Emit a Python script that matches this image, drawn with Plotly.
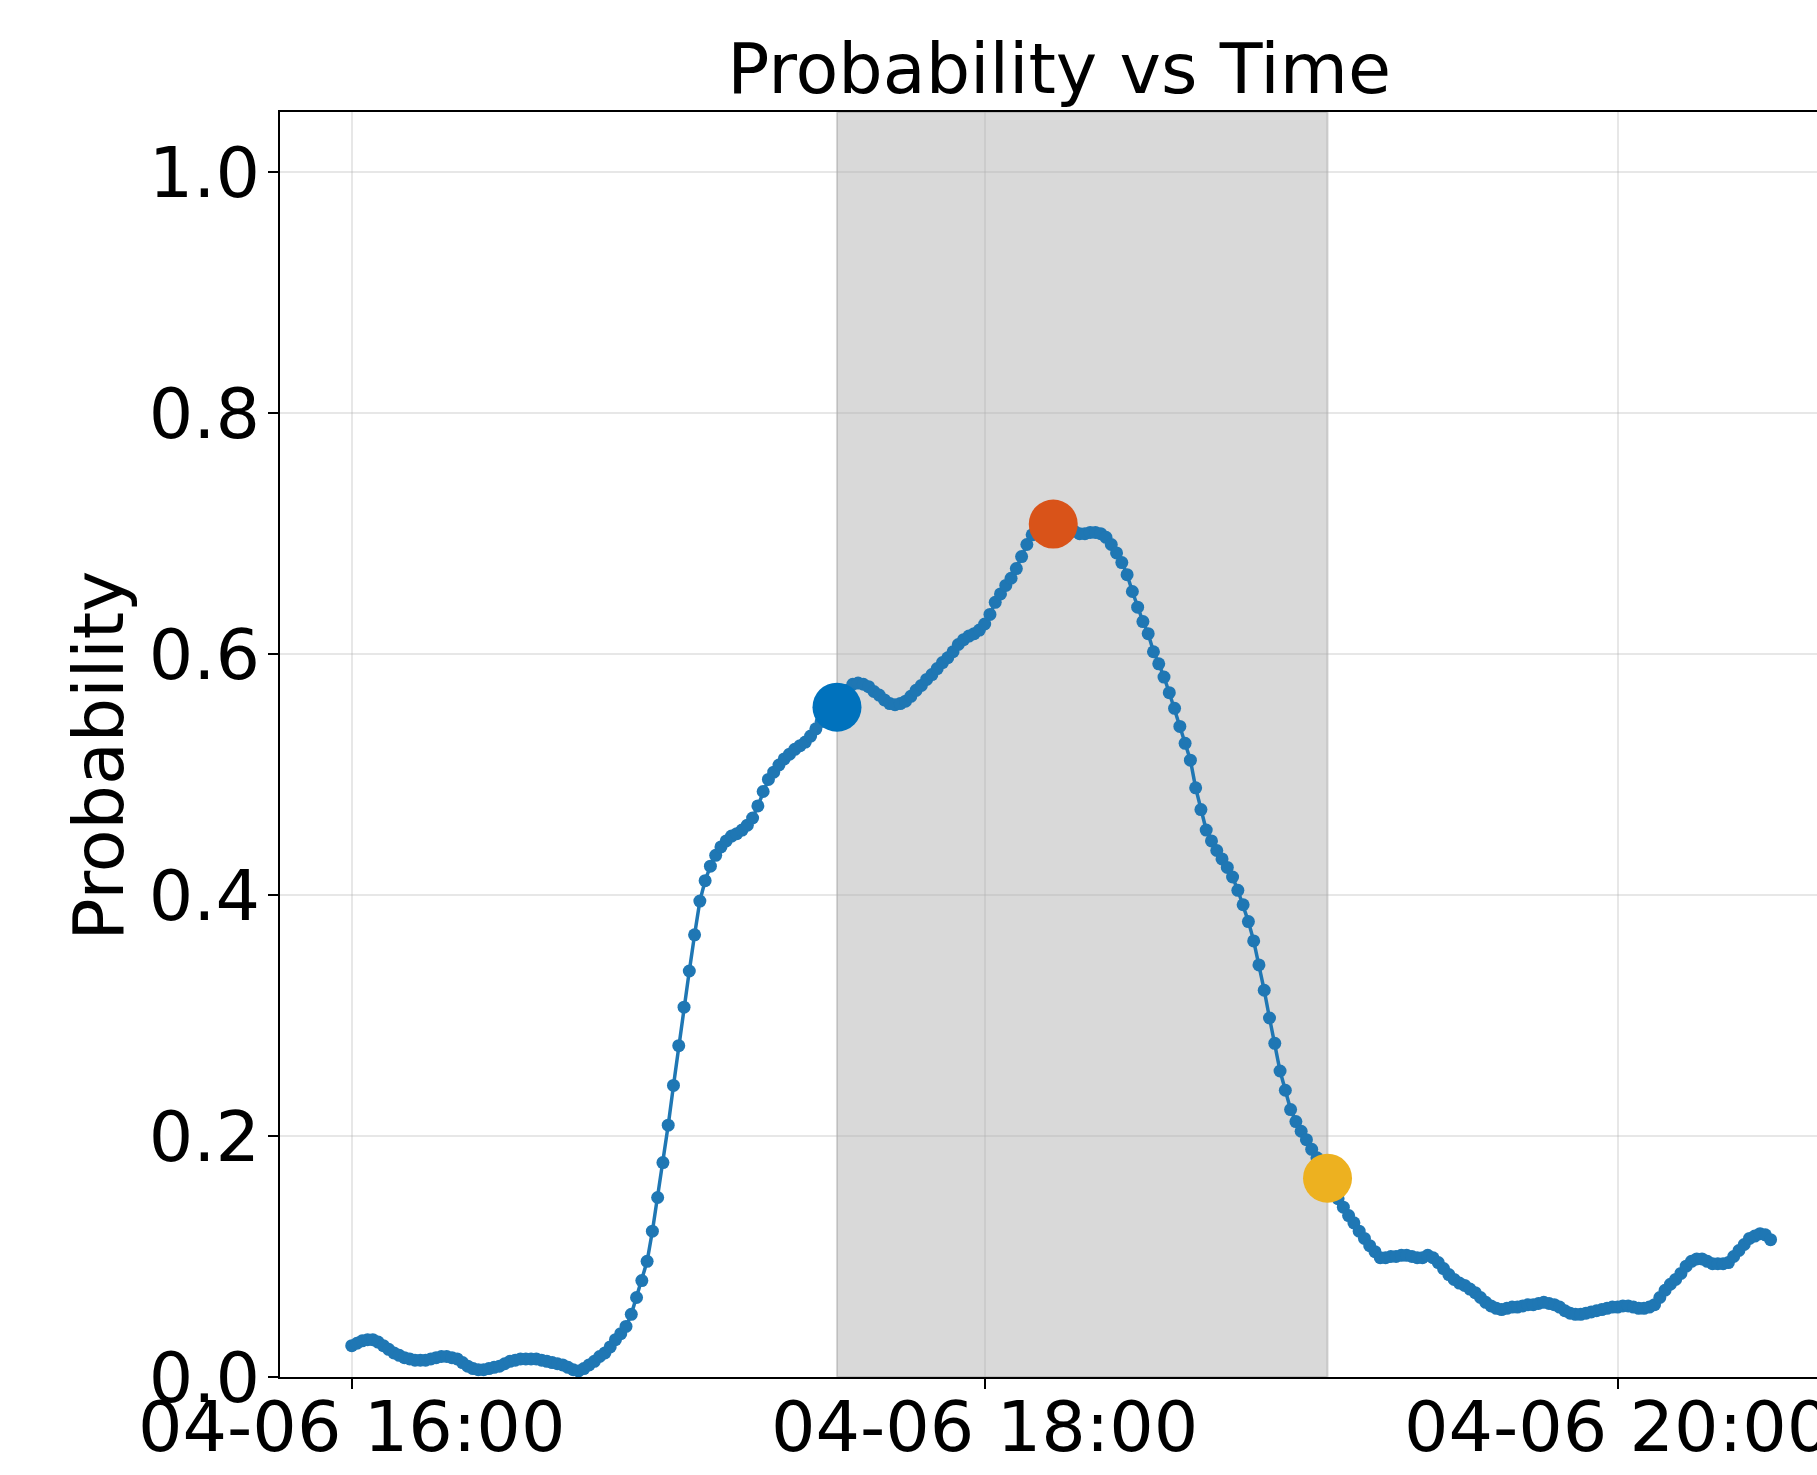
import pandas as pd
import plotly.graph_objects as go

start_time = "2024-04-06 16:00"
probability = [
    0.026, 0.028, 0.030, 0.031, 0.031, 0.029, 0.026, 0.023, 0.020, 0.018,
    0.016, 0.015, 0.014, 0.014, 0.014, 0.015, 0.016, 0.017, 0.017, 0.016,
    0.015, 0.012, 0.009, 0.007, 0.006, 0.006, 0.007, 0.008, 0.009, 0.011,
    0.013, 0.014, 0.015, 0.015, 0.015, 0.015, 0.014, 0.013, 0.012, 0.011,
    0.010, 0.008, 0.006, 0.005, 0.007, 0.010, 0.013, 0.017, 0.020, 0.025,
    0.031, 0.036, 0.042, 0.052, 0.066, 0.080, 0.096, 0.121, 0.149, 0.178,
    0.209, 0.242, 0.275, 0.307, 0.337, 0.367, 0.395, 0.412, 0.424, 0.433,
    0.440, 0.445, 0.449, 0.451, 0.454, 0.458, 0.464, 0.474, 0.486, 0.496,
    0.502, 0.508, 0.513, 0.517, 0.521, 0.524, 0.527, 0.532, 0.538, 0.544,
    0.549, 0.553, 0.556, 0.563, 0.570, 0.575, 0.576, 0.575, 0.573, 0.569,
    0.566, 0.562, 0.559, 0.558, 0.559, 0.561, 0.565, 0.570, 0.574, 0.579,
    0.583, 0.588, 0.593, 0.597, 0.602, 0.608, 0.612, 0.615, 0.617, 0.620,
    0.625, 0.633, 0.643, 0.650, 0.657, 0.663, 0.671, 0.681, 0.691, 0.699,
    0.703, 0.706, 0.707, 0.708, 0.707, 0.705, 0.703, 0.702, 0.700, 0.700,
    0.701, 0.701, 0.700, 0.697, 0.691, 0.684, 0.676, 0.666, 0.652, 0.639,
    0.627, 0.617, 0.602, 0.592, 0.581, 0.568, 0.555, 0.540, 0.526, 0.512,
    0.489, 0.471, 0.454, 0.445, 0.437, 0.430, 0.423, 0.415, 0.404, 0.392,
    0.378, 0.362, 0.342, 0.321, 0.298, 0.277, 0.254, 0.238, 0.222, 0.212,
    0.204, 0.197, 0.189, 0.182, 0.174, 0.165, 0.157, 0.148, 0.141, 0.134,
    0.128, 0.121, 0.115, 0.109, 0.104, 0.099, 0.099, 0.100, 0.100, 0.101,
    0.101, 0.100, 0.099, 0.099, 0.101, 0.099, 0.095, 0.090, 0.085, 0.081,
    0.078, 0.076, 0.073, 0.070, 0.066, 0.062, 0.059, 0.057, 0.056, 0.057,
    0.058, 0.058, 0.059, 0.060, 0.060, 0.061, 0.062, 0.061, 0.060, 0.058,
    0.055, 0.053, 0.052, 0.052, 0.053, 0.054, 0.055, 0.056, 0.057, 0.058,
    0.058, 0.059, 0.059, 0.058, 0.057, 0.057, 0.058, 0.060, 0.066, 0.072,
    0.077, 0.081, 0.086, 0.092, 0.096, 0.098, 0.098, 0.096, 0.094, 0.094,
    0.094, 0.095, 0.100, 0.105, 0.110, 0.115, 0.117, 0.119, 0.118, 0.114,
]
highlight_index = [92, 133, 185]
highlight_colors = ["#0072BD", "#D95319", "#EDB120"]
tick_labels_y = [0.0, 0.2, 0.4, 0.6, 0.8, 1.0]
x_range = ["2024-04-06 15:46:24", "2024-04-06 20:37:48"]
y_range = [0.0, 1.05]

times = pd.date_range(start=start_time, periods=len(probability), freq="1min")

fig = go.Figure()

# shaded window between first and last highlighted points
fig.add_shape(
    type="rect", xref="x", yref="paper",
    x0=times[highlight_index[0]], x1=times[highlight_index[2]], y0=0, y1=1,
    fillcolor="rgba(128,128,128,0.3)",
    line=dict(color="rgba(128,128,128,0.3)", width=2),
    layer="below",
)

fig.add_trace(go.Scatter(
    x=times, y=probability, mode="lines+markers",
    line=dict(color="#1f77b4", width=3.5),
    marker=dict(color="#1f77b4", size=13),
    hoverinfo="x+y",
))

for idx, col in zip(highlight_index, highlight_colors):
    fig.add_trace(go.Scatter(
        x=[times[idx]], y=[probability[idx]], mode="markers",
        marker=dict(color=col, size=49, line=dict(width=0)),
    ))

font_family = "DejaVu Sans"
fs = 70
fig.update_layout(
    width=1817, height=1475,
    margin=dict(l=280, r=0, t=112, b=98, autoexpand=False),
    paper_bgcolor="white", plot_bgcolor="white",
    showlegend=False,
    font=dict(family=font_family, size=fs, color="black"),
    title=dict(
        text="Probability vs Time", x=0.5829, xanchor="center",
        xref="container", yref="container", y=0.9700, yanchor="top",
        font=dict(family=font_family, size=fs, color="black"),
    ),
    annotations=[dict(
        text="Probability", textangle=-90, showarrow=False,
        xref="paper", yref="paper", x=-0.1184, y=0.4913,
        xanchor="center", yanchor="middle",
        font=dict(family=font_family, size=fs, color="black"),
    )],
)

fig.update_xaxes(
    range=x_range, type="date", automargin=False,
    tick0=start_time, dtick=2 * 3600 * 1000, tickformat="%m-%d %H:%M",
    ticklabeloverflow="allow", ticklabelstandoff=-22,
    showgrid=True, gridcolor="rgba(176,176,176,0.3)", gridwidth=1.5,
    showline=True, linecolor="black", linewidth=2, mirror=True,
    ticks="outside", ticklen=10, tickwidth=2, tickcolor="black",
    tickfont=dict(family=font_family, size=fs, color="black"),
    zeroline=False,
)
fig.update_yaxes(
    range=y_range, tickvals=tick_labels_y, tickformat=".1f", automargin=False,
    ticklabelstandoff=-6,
    showgrid=True, gridcolor="rgba(176,176,176,0.3)", gridwidth=1.5,
    showline=True, linecolor="black", linewidth=2, mirror=False,
    ticks="outside", ticklen=10, tickwidth=2, tickcolor="black",
    tickfont=dict(family=font_family, size=fs, color="black"),
    zeroline=False,
)

fig.write_html("out.html")
